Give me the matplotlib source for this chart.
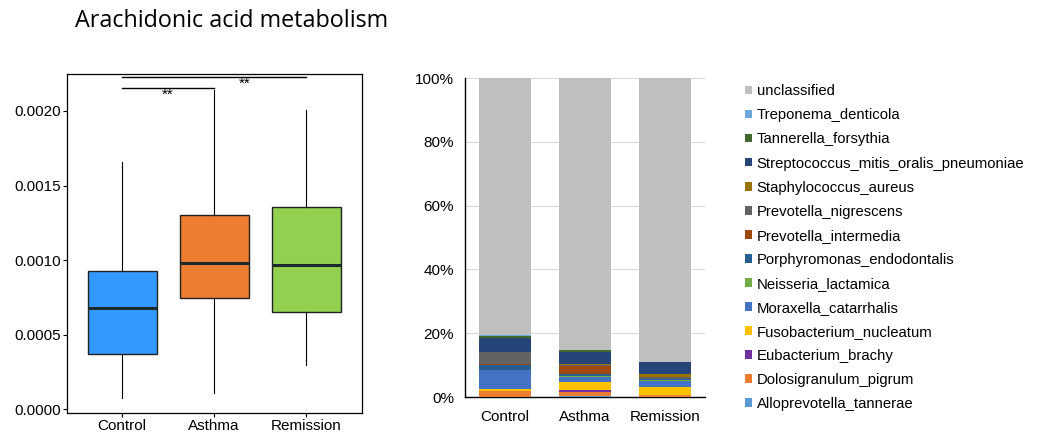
import numpy as np
import matplotlib
matplotlib.use("Agg")
import matplotlib.pyplot as plt
from matplotlib.patches import Patch

plt.rcParams['font.family'] = ['Liberation Sans', 'DejaVu Sans']

# ---------------- box plot data ----------------
groups = ["Control", "Asthma", "Remission"]
box_colors = ["#3399FF", "#ED7D31", "#92D050"]
whis_lo = [0.000072, 0.000105, 0.000295]
q1 = [0.000367, 0.000743, 0.000649]
median = [0.000680, 0.000982, 0.000966]
q3 = [0.000928, 0.001300, 0.001354]
whis_hi = [0.001660, 0.002140, 0.002010]

# ---------------- stacked bar data (%) ----------------
taxa = ["Alloprevotella_tannerae", "Dolosigranulum_pigrum", "Eubacterium_brachy",
        "Fusobacterium_nucleatum", "Moraxella_catarrhalis", "Neisseria_lactamica",
        "Porphyromonas_endodontalis", "Prevotella_intermedia", "Prevotella_nigrescens",
        "Staphylococcus_aureus", "Streptococcus_mitis_oralis_pneumoniae",
        "Tannerella_forsythia", "Treponema_denticola"]
taxa_colors = ["#5B9BD5", "#ED7D31", "#7030A0", "#FFC000", "#4472C4", "#70AD47",
               "#255E91", "#9E480E", "#636363", "#997300", "#264478", "#43682B",
               "#6FA8DC"]
control_pct = [0.1, 1.8, 0.0, 0.6, 6.0, 0.1, 1.5, 0.1, 3.8, 0.1, 4.5, 0.6, 0.2]
asthma_pct = [0.3, 1.2, 0.6, 2.5, 1.8, 0.2, 0.7, 2.3, 0.3, 0.6, 3.5, 0.6, 0.1]
remission_pct = [0.0, 0.6, 0.0, 2.4, 2.1, 0.1, 0.5, 0.1, 0.6, 0.7, 3.8, 0.1, 0.0]
unclassified_color = "#BFBFBF"

fig = plt.figure(figsize=(10.45, 4.36), dpi=100)

fig.text(0.072, 0.952, "Arachidonic acid metabolism", fontsize=16.8,
         family=['Open Sans', 'DejaVu Sans'], va='center', ha='left')

# ---- box plot ----
ax1 = fig.add_axes([0.0641, 0.052, 0.282, 0.7775])
stats = []
for i in range(len(groups)):
    stats.append(dict(whislo=whis_lo[i], q1=q1[i], med=median[i], q3=q3[i],
                      whishi=whis_hi[i], label=groups[i]))
bp = ax1.bxp(stats, positions=[1, 2, 3], widths=0.75, patch_artist=True,
             showcaps=False, showfliers=False,
             medianprops=dict(color="#1b2b2b", linewidth=2.2),
             whiskerprops=dict(color="black", linewidth=0.8),
             boxprops=dict(edgecolor="#222222", linewidth=1.0))
for patch, c in zip(bp['boxes'], box_colors):
    patch.set_facecolor(c)
ax1.set_xlim(0.4, 3.605)
ax1.set_ylim(-0.0000289, 0.002246)
ax1.set_yticks([0, 0.0005, 0.001, 0.0015, 0.002])
ax1.set_yticklabels(["0.0000", "0.0005", "0.0010", "0.0015", "0.0020"])
ax1.tick_params(axis='y', labelsize=11, length=3, width=0.8, pad=1.5)
ax1.tick_params(axis='x', labelsize=11, length=3, width=0.8, pad=1)
for sp in ax1.spines.values():
    sp.set_linewidth(0.9)

# significance marks
ax1.plot([1, 2], [0.002152, 0.002152], color="black", linewidth=1.0)
ax1.text(1.5, 0.002112, "**", ha='center', va='center', fontsize=11)
ax1.plot([1, 3], [0.00223, 0.00223], color="black", linewidth=1.0)
ax1.text(2.33, 0.002185, "**", ha='center', va='center', fontsize=11)

# ---- stacked bars ----
ax2 = fig.add_axes([0.445, 0.0894, 0.2297, 0.7317])
x = np.arange(len(groups))
data = np.array([control_pct, asthma_pct, remission_pct])
bottom = np.zeros(len(groups))
handles = []
for j in range(len(taxa)):
    ax2.bar(x, data[:, j], bottom=bottom, width=0.66, color=taxa_colors[j], zorder=3)
    bottom += data[:, j]
    handles.append(Patch(facecolor=taxa_colors[j], label=taxa[j]))
uncl = 100 - bottom
ax2.bar(x, uncl, bottom=bottom, width=0.66, color=unclassified_color, zorder=3)
handles.append(Patch(facecolor=unclassified_color, label="unclassified"))

ax2.set_xlim(-0.5, 2.5)
ax2.set_ylim(0, 100)
ax2.set_yticks([0, 20, 40, 60, 80, 100])
ax2.set_yticklabels(["0%", "20%", "40%", "60%", "80%", "100%"])
ax2.set_xticks(x)
ax2.set_xticklabels(groups)
ax2.tick_params(axis='y', labelsize=11, length=0, pad=8)
ax2.tick_params(axis='x', labelsize=11, length=0, pad=9)
ax2.yaxis.grid(True, color="#D9D9D9", linewidth=0.8, zorder=0)
ax2.spines['top'].set_visible(False)
ax2.spines['right'].set_visible(False)
ax2.spines['left'].set_linewidth(1.0)
ax2.spines['bottom'].set_linewidth(1.0)

fig.legend(handles=handles[::-1], loc='upper left', bbox_to_anchor=(0.707, 0.82),
           frameon=False, fontsize=10.7, handlelength=0.5, handleheight=0.5,
           handletextpad=0.3, labelspacing=0.675, borderaxespad=0)

fig.savefig("out.png", dpi=100)
